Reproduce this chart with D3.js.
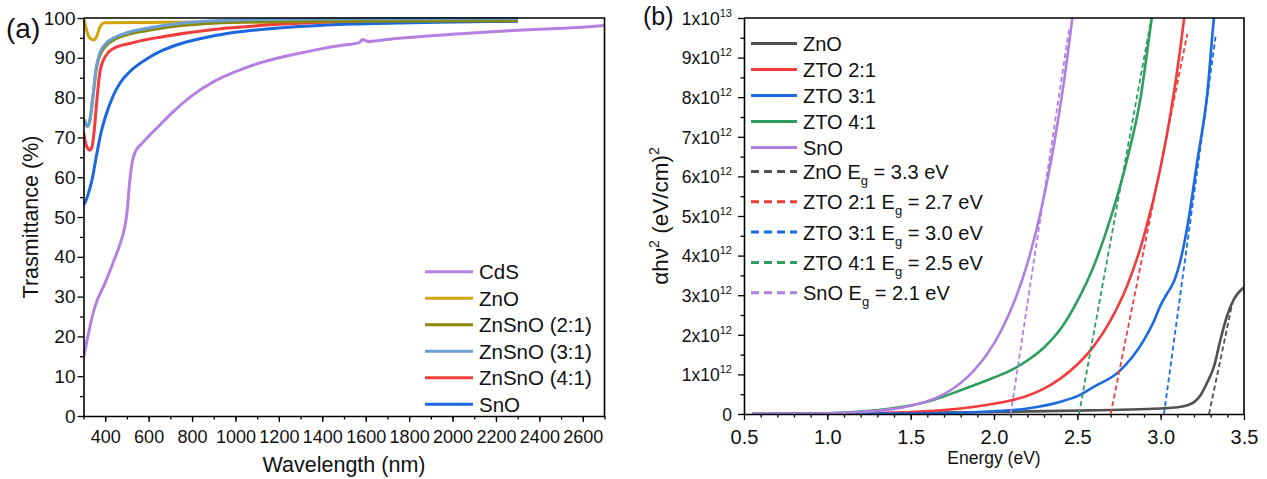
<!DOCTYPE html>
<html>
<head>
<meta charset="utf-8">
<script src="https://cdn.jsdelivr.net/npm/d3@7"></script>
<style>
  body { margin: 0; background: #fff; }
  text { font-family: "Liberation Sans", Arial, sans-serif; fill: #111; }
</style>
</head>
<body>
<script>
// ---- panel (a): wavelength (nm) vs transmittance (%)
const cdsT = [[300,14.5],[320,20],[350,27],[400,33.5],[440,39],[467,43],[490,47.5],[500,51],[513,59],[525,64],[540,66.5],[570,68.5],[600,70.3],[650,73],[700,75.8],[800,80.5],[900,84],[1000,86.5],[1100,88.5],[1200,90],[1300,91.2],[1400,92.3],[1500,93.2],[1570,93.8],[1585,94.6],[1600,94.3],[1620,94.1],[1700,94.6],[1800,95.1],[2000,95.9],[2200,96.6],[2400,97.2],[2600,97.7],[2700,98.1]];
const znoT = [[300,100],[305,99],[315,96.8],[330,94.9],[345,94.5],[360,95.3],[372,97.2],[385,98.5],[400,98.8],[600,98.9],[1000,99],[2300,99.1]];
const zso21T = [[305,74.5],[312,73],[320,72.8],[330,74.5],[345,81],[360,87.5],[375,90.5],[400,92.8],[450,94.8],[500,95.8],[600,96.9],[750,98.1],[900,98.7],[1100,99],[1500,99.2],[2300,99.3]];
const zso31T = [[305,74.5],[312,73],[320,72.8],[330,74.5],[345,81],[360,88],[375,91.2],[400,93.4],[450,95.3],[500,96.3],[600,97.5],[750,98.7],[900,99.3],[1100,99.6],[1500,99.8],[2300,99.9]];
const zso41T = [[300,71.5],[310,68.5],[320,67.2],[330,66.8],[340,67.8],[350,72],[361,79],[376,86.5],[400,90.3],[437,92.3],[513,93.6],[665,95.3],[880,97],[1000,97.6],[1200,98.4],[1500,99.2],[1800,99.6],[2300,99.9]];
const snoT = [[300,53],[310,54],[320,55.5],[340,59.5],[360,65.5],[380,71],[400,75],[437,80.5],[470,83.8],[513,86.5],[600,90],[666,91.9],[750,93.6],[880,95.3],[1000,96.4],[1200,97.5],[1400,98.2],[1700,98.7],[2000,99],[2300,99.2]];

const namesA = ["CdS", "ZnO", "ZnSnO (2:1)", "ZnSnO (3:1)", "ZnSnO (4:1)", "SnO"];
const colorsA = ["#b67fe2", "#d4a20a", "#8a8a0c", "#6c9fd4", "#f23c3c", "#1b67df"];
const seriesA = [cdsT, znoT, zso21T, zso31T, zso41T, snoT];
const drawOrderA = [0, 1, 5, 4, 2, 3];

// ---- panel (b): photon energy (eV) vs (αhν)² in units of 1e12 (eV/cm)²
const znoTauc = [[0.55,0],[1.0,0.01],[2.0,0.05],[2.4,0.08],[3.0,0.14],[3.1,0.17],[3.16,0.22],[3.2,0.3],[3.24,0.48],[3.28,0.8],[3.32,1.2],[3.36,1.9],[3.4,2.5],[3.44,2.9],[3.5,3.2]];
const zto21Tauc = [[0.55,0],[1.0,0.005],[1.5,0.05],[1.8,0.14],[2.0,0.26],[2.1,0.34],[2.2,0.46],[2.3,0.64],[2.4,0.9],[2.5,1.25],[2.6,1.72],[2.7,2.37],[2.8,3.25],[2.9,4.5],[3.0,6.24],[3.06,7.6],[3.12,9.3],[3.15,10.3]];
const zto31Tauc = [[0.55,0],[1.5,0.01],[2.0,0.07],[2.2,0.14],[2.4,0.31],[2.5,0.45],[2.6,0.69],[2.75,1.07],[2.9,1.87],[2.96,2.35],[3.0,2.75],[3.04,3.05],[3.08,3.35],[3.12,3.9],[3.16,4.73],[3.22,6.4],[3.28,8.1],[3.32,10],[3.34,10.6]];
const zto41Tauc = [[0.55,0],[1.0,0.02],[1.2,0.06],[1.4,0.15],[1.6,0.31],[1.8,0.6],[2.0,0.92],[2.1,1.1],[2.2,1.35],[2.3,1.68],[2.4,2.15],[2.5,2.85],[2.6,3.75],[2.7,4.95],[2.8,6.45],[2.88,8.0],[2.94,9.8],[2.96,10.4]];
const snoTauc = [[0.55,0],[0.8,0.01],[1.0,0.02],[1.2,0.05],[1.3,0.08],[1.4,0.13],[1.5,0.21],[1.6,0.32],[1.7,0.5],[1.8,0.78],[1.88,1.1],[1.96,1.52],[2.04,2.08],[2.12,2.82],[2.2,3.8],[2.28,5.1],[2.36,6.8],[2.42,8.4],[2.47,10.0],[2.49,10.7]];
// linear fits (endpoints)
const znoFit = [[3.29,0],[3.43,2.8]];
const zto21Fit = [[2.70,0],[3.16,9.6]];
const zto31Fit = [[3.02,0],[3.33,9.55]];
const zto41Fit = [[2.51,0],[2.94,9.9]];
const snoFit = [[2.10,0],[2.45,9.7]];

const namesB = ["ZnO", "ZTO 2:1", "ZTO 3:1", "ZTO 4:1", "SnO"];
const gapsB = ["3.3", "2.7", "3.0", "2.5", "2.1"];
const colorsB = ["#505050", "#f03c3c", "#1a6ae0", "#2e9e5e", "#b07fe0"];
const curvesB = [znoTauc, zto21Tauc, zto31Tauc, zto41Tauc, snoTauc];
const fitsB = [znoFit, zto21Fit, zto31Fit, zto41Fit, snoFit];

const xTicksA = d3.range(400, 2700, 200);
const yTicksA = d3.range(0, 101, 10);
const xTicksB = [0.5, 1.0, 1.5, 2.0, 2.5, 3.0, 3.5];
const yTicksB = d3.range(0, 11, 1);

const svg = d3.select("body").append("svg")
  .attr("width", 1267).attr("height", 479);

// ================= panel (a) =================
const xA = d3.scaleLinear().domain([300, 2700]).range([83.5, 604.5]);
const yA = d3.scaleLinear().domain([0, 100]).range([416, 18]);

const gA = svg.append("g");
const lineA = d3.line().x(d => xA(d[0])).y(d => yA(d[1])).curve(d3.curveMonotoneX);

gA.append("clipPath").attr("id", "clipA").append("rect")
  .attr("x", xA(300)).attr("y", yA(100) - 2).attr("width", xA(2700) - xA(300)).attr("height", yA(0) - yA(100) + 2);

drawOrderA.forEach(i => {
  gA.append("path").datum(seriesA[i])
    .attr("d", lineA).attr("fill", "none")
    .attr("stroke", colorsA[i]).attr("stroke-width", 3)
    .attr("clip-path", "url(#clipA)");
});

// minor ticks
gA.append("g").attr("transform", `translate(0,${yA(0)})`)
  .call(d3.axisBottom(xA).tickValues(d3.range(300, 2701, 100)).tickSize(3.5).tickFormat(""))
  .call(g => g.select(".domain").remove());
gA.append("g").attr("transform", `translate(${xA(300)},0)`)
  .call(d3.axisLeft(yA).tickValues(d3.range(5, 100, 10)).tickSize(3.5).tickFormat(""))
  .call(g => g.select(".domain").remove());
// major axes
gA.append("g").attr("class", "ax").attr("transform", `translate(0,${yA(0)})`)
  .call(d3.axisBottom(xA).tickValues(xTicksA).tickSize(6).tickPadding(8).tickSizeOuter(0).tickFormat(d3.format("d")))
  .call(g => g.selectAll("text").attr("font-size", 18));
gA.append("g").attr("class", "ax").attr("transform", `translate(${xA(300)},0)`)
  .call(d3.axisLeft(yA).tickValues(yTicksA).tickSize(6).tickPadding(2).tickSizeOuter(0))
  .call(g => g.selectAll("text").attr("font-size", 19));
gA.append("path")
  .attr("d", `M${xA(300)},${yA(100)}H${xA(2700)}V${yA(0)}`)
  .attr("fill", "none").attr("stroke", "#000").attr("stroke-width", 1.6);

gA.append("text").attr("x", (xA(300) + xA(2700)) / 2).attr("y", 472)
  .attr("text-anchor", "middle").attr("font-size", 21.5).text("Wavelength (nm)");
gA.append("text").attr("transform", `translate(38,${(yA(0) + yA(100)) / 2}) rotate(-90)`)
  .attr("text-anchor", "middle").attr("font-size", 21.5).text("Trasmittance (%)");
gA.append("text").attr("x", 6).attr("y", 38).attr("font-size", 28).text("(a)");

// legend (a)
namesA.forEach((n, i) => {
  const y = 271.7 + i * 26.5;
  gA.append("line").attr("x1", 425).attr("x2", 473).attr("y1", y).attr("y2", y)
    .attr("stroke", colorsA[i]).attr("stroke-width", 3);
  gA.append("text").attr("x", 479).attr("y", y + 7.5).attr("font-size", 20.5).text(n);
});

// ================= panel (b) =================
const xB = d3.scaleLinear().domain([0.5, 3.5]).range([744, 1244]);
const yB = d3.scaleLinear().domain([0, 10]).range([414, 18]);
const gB = svg.append("g");
const lineB = d3.line().x(d => xB(d[0])).y(d => yB(d[1])).curve(d3.curveMonotoneX);
const fitLine = d3.line().x(d => xB(d[0])).y(d => yB(d[1]));

gB.append("clipPath").attr("id", "clipB").append("rect")
  .attr("x", xB(0.5)).attr("y", yB(10)).attr("width", xB(3.5) - xB(0.5)).attr("height", yB(0) - yB(10));

curvesB.forEach((c, i) => {
  gB.append("path").datum(c)
    .attr("d", lineB).attr("fill", "none")
    .attr("stroke", colorsB[i]).attr("stroke-width", 2.6)
    .attr("clip-path", "url(#clipB)");
});
fitsB.forEach((f, i) => {
  gB.append("path").datum(f)
    .attr("d", fitLine).attr("fill", "none")
    .attr("stroke", colorsB[i]).attr("stroke-width", 1.8)
    .attr("stroke-dasharray", "5,3");
});

gB.append("g").attr("transform", `translate(0,${yB(0)})`)
  .call(d3.axisBottom(xB).tickValues(d3.range(6, 35, 1).map(v => v / 10)).tickSize(3.5).tickFormat(""))
  .call(g => g.select(".domain").remove());
gB.append("g").attr("transform", `translate(${xB(0.5)},0)`)
  .call(d3.axisLeft(yB).tickValues(d3.range(0.5, 10, 1)).tickSize(3.5).tickFormat(""))
  .call(g => g.select(".domain").remove());
gB.append("g").attr("class", "ax").attr("transform", `translate(0,${yB(0)})`)
  .call(d3.axisBottom(xB).tickValues(xTicksB).tickSize(6).tickPadding(10).tickSizeOuter(0).tickFormat(d3.format(".1f")))
  .call(g => g.selectAll("text").attr("font-size", 20));
const yAxB = gB.append("g").attr("class", "ax").attr("transform", `translate(${xB(0.5)},0)`)
  .call(d3.axisLeft(yB).tickValues(yTicksB).tickSize(6).tickSizeOuter(0).tickFormat(""));
yAxB.selectAll(".tick").each(function (d) {
  const t = d3.select(this).append("text").attr("x", -12).attr("dy", "0.36em")
    .attr("text-anchor", "end").attr("font-size", 17.5);
  if (d === 0) { t.text("0"); return; }
  const mant = d === 10 ? "1" : String(d);
  const exp = d === 10 ? "13" : "12";
  t.append("tspan").text(mant + "x10");
  t.append("tspan").attr("font-size", 11).attr("dy", -8).text(exp);
});
gB.append("path")
  .attr("d", `M${xB(0.5)},${yB(10)}H${xB(3.5)}V${yB(0)}`)
  .attr("fill", "none").attr("stroke", "#000").attr("stroke-width", 1.6);

gB.append("text").attr("x", (xB(0.5) + xB(3.5)) / 2).attr("y", 464)
  .attr("text-anchor", "middle").attr("font-size", 17.5).text("Energy (eV)");
const yl = gB.append("text").attr("transform", `translate(668,${(yB(0) + yB(10)) / 2}) rotate(-90)`)
  .attr("text-anchor", "middle").attr("font-size", 22.5);
yl.append("tspan").text("αhν");
yl.append("tspan").attr("font-size", 14).attr("dy", -9).text("2");
yl.append("tspan").attr("dy", 9).text(" (eV/cm)");
yl.append("tspan").attr("font-size", 14).attr("dy", -9).text("2");
gB.append("text").attr("x", 643).attr("y", 25).attr("font-size", 25).text("(b)");

// legend (b)
namesB.forEach((n, i) => {
  const y = 43.5 + i * 26;
  gB.append("line").attr("x1", 751).attr("x2", 797).attr("y1", y).attr("y2", y)
    .attr("stroke", colorsB[i]).attr("stroke-width", 3);
  gB.append("text").attr("x", 803).attr("y", y + 7.5).attr("font-size", 20).text(n);
});
namesB.forEach((n, i) => {
  const y = 171.5 + i * 30.3;
  gB.append("line").attr("x1", 751).attr("x2", 797).attr("y1", y).attr("y2", y)
    .attr("stroke", colorsB[i]).attr("stroke-width", 3).attr("stroke-dasharray", "8,5");
  const t = gB.append("text").attr("x", 803).attr("y", y + 7.5).attr("font-size", 20);
  t.append("tspan").text(n + " E");
  t.append("tspan").attr("font-size", 13).attr("dy", 6).text("g");
  t.append("tspan").attr("dy", -6).text(" = " + gapsB[i] + " eV");
});

svg.selectAll(".ax .domain, .tick line").attr("stroke", "#000");
svg.selectAll(".ax .domain").attr("stroke-width", 1.6);
svg.selectAll(".tick line").attr("stroke-width", 1.3);
svg.selectAll(".tick text").attr("fill", "#111");
</script>
</body>
</html>
